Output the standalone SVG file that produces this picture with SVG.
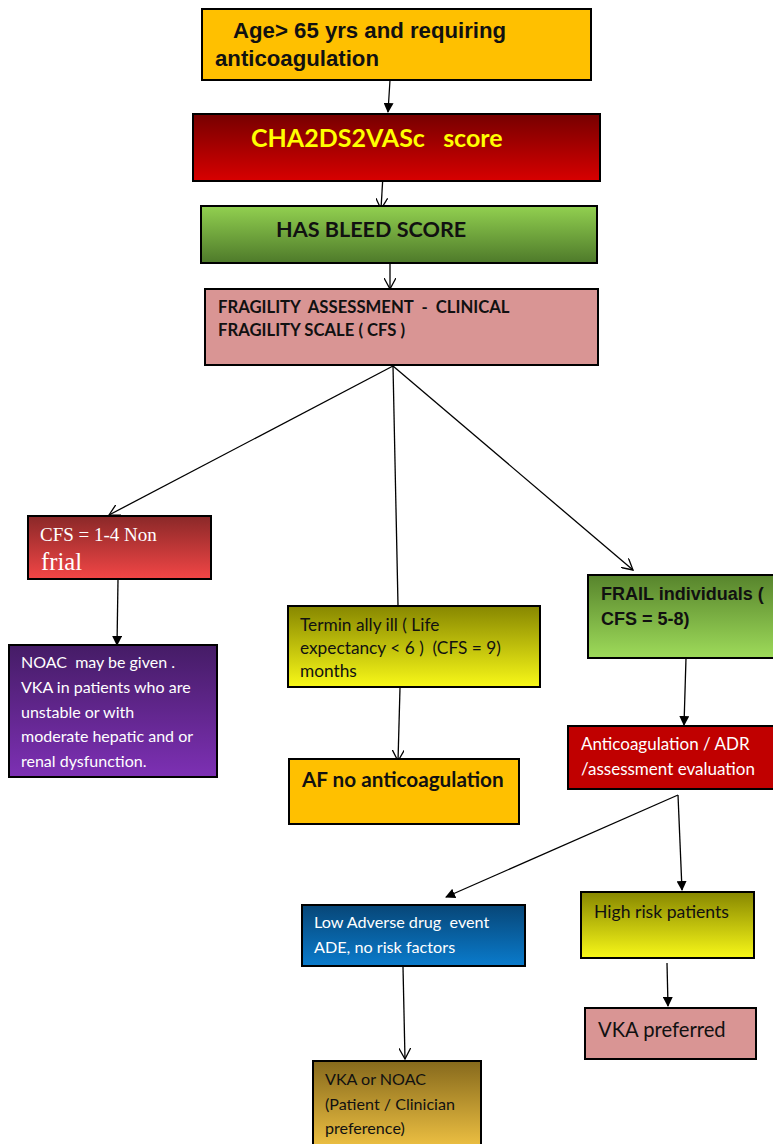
<svg xmlns="http://www.w3.org/2000/svg" width="773" height="1144" viewBox="0 0 773 1144">
<style>
.box{stroke:#000;stroke-width:2}
.c{font-family:Lato,"Liberation Sans",sans-serif}
.a{font-family:"Liberation Sans",Arial,sans-serif;font-weight:bold}
.w{fill:#fff}
.k{fill:#111}
.ln{stroke:#000;stroke-width:1.3;fill:none}
</style>
<defs>
<linearGradient id="gRed" x1="0" y1="0" x2="0" y2="1"><stop offset="0" stop-color="#760000"/><stop offset="1" stop-color="#d80000"/></linearGradient>
<linearGradient id="gGreen" x1="0" y1="0" x2="0" y2="1"><stop offset="0" stop-color="#92d050"/><stop offset="1" stop-color="#4e7a2a"/></linearGradient>
<linearGradient id="gGreen2" x1="0" y1="0" x2="0" y2="1"><stop offset="0" stop-color="#57842c"/><stop offset="1" stop-color="#9edb5a"/></linearGradient>
<linearGradient id="gCfs" x1="0" y1="0" x2="0" y2="1"><stop offset="0" stop-color="#8a2828"/><stop offset="1" stop-color="#f24646"/></linearGradient>
<linearGradient id="gPurple" x1="0" y1="0" x2="0" y2="1"><stop offset="0" stop-color="#451c66"/><stop offset="1" stop-color="#7d30b4"/></linearGradient>
<linearGradient id="gOlive" x1="0" y1="0" x2="0" y2="1"><stop offset="0" stop-color="#878700"/><stop offset="1" stop-color="#f8f818"/></linearGradient>
<linearGradient id="gBlue" x1="0" y1="0" x2="0" y2="1"><stop offset="0" stop-color="#074677"/><stop offset="1" stop-color="#0a7bcc"/></linearGradient>
<linearGradient id="gBrown" x1="0" y1="0" x2="0" y2="1"><stop offset="0" stop-color="#86691c"/><stop offset="1" stop-color="#f2c444"/></linearGradient>
<marker id="fill" markerWidth="10" markerHeight="10" refX="9" refY="5" orient="auto" markerUnits="userSpaceOnUse"><path d="M0,0 L10,5 L0,10 z" fill="#000"/></marker>
<marker id="open" markerWidth="12" markerHeight="12" refX="11" refY="6" orient="auto" markerUnits="userSpaceOnUse"><path d="M0,0 L11,6 L0,12" fill="none" stroke="#000" stroke-width="1.3"/></marker>
</defs>

<g id="connectors">
<line class="ln" x1="390" y1="80" x2="388" y2="112" marker-end="url(#fill)"/>
<line class="ln" x1="383" y1="175" x2="381" y2="209" marker-end="url(#open)"/>
<line class="ln" x1="390" y1="263" x2="390" y2="289" marker-end="url(#open)"/>
<line class="ln" x1="393" y1="366" x2="109" y2="515" marker-end="url(#open)"/>
<line class="ln" x1="393" y1="366" x2="398" y2="605"/>
<line class="ln" x1="393" y1="366" x2="633" y2="570" marker-end="url(#open)"/>
<line class="ln" x1="118" y1="580" x2="117" y2="645" marker-end="url(#fill)"/>
<line class="ln" x1="400" y1="688" x2="398" y2="761" marker-end="url(#open)"/>
<line class="ln" x1="686" y1="658" x2="684" y2="725" marker-end="url(#fill)"/>
<line class="ln" x1="678" y1="795" x2="446" y2="897" marker-end="url(#fill)"/>
<line class="ln" x1="678" y1="795" x2="682" y2="890" marker-end="url(#fill)"/>
<line class="ln" x1="403" y1="967" x2="405" y2="1059" marker-end="url(#open)"/>
<line class="ln" x1="667" y1="963" x2="668" y2="1006" marker-end="url(#fill)"/>
</g>

<g id="n-age">
<rect class="box" x="202" y="9" width="389" height="71" fill="#ffc000"/>
<text class="a k" font-size="22.2" x="233" y="38">Age&gt; 65 yrs and requiring</text>
<text class="a k" font-size="22.2" x="215" y="66">anticoagulation</text>
</g>

<g id="n-cha">
<rect class="box" x="193" y="114" width="407" height="67" fill="url(#gRed)"/>
<text class="c" font-weight="bold" font-size="25" fill="#ffff00" x="251" y="147" xml:space="preserve">CHA2DS2VASc   score</text>
</g>

<g id="n-has">
<rect class="box" x="201" y="206" width="396" height="57" fill="url(#gGreen)"/>
<text class="c k" font-weight="bold" font-size="21.6" x="276" y="237">HAS BLEED SCORE</text>
</g>

<g id="n-frag">
<rect class="box" x="205" y="289" width="393" height="76" fill="#d99594"/>
<text class="c k" font-weight="bold" font-size="16.7" x="218" y="313" xml:space="preserve">FRAGILITY  ASSESSMENT  -  CLINICAL</text>
<text class="c k" font-weight="bold" font-size="16.7" x="218" y="336">FRAGILITY SCALE ( CFS )</text>
</g>

<g id="n-cfs">
<rect class="box" x="28" y="516" width="183" height="63" fill="url(#gCfs)"/>
<text class="w" font-family="'Liberation Serif','Times New Roman',serif" font-size="19" x="40" y="541">CFS = 1-4 Non</text>
<text class="w" font-family="'Liberation Serif','Times New Roman',serif" font-size="24.6" x="41" y="570">frial</text>
</g>

<g id="n-noac">
<rect class="box" x="9" y="645" width="208" height="132" fill="url(#gPurple)"/>
<text class="c w" font-size="16" x="21" y="668" xml:space="preserve">NOAC  may be given .</text>
<text class="c w" font-size="16" x="21" y="693">VKA in patients who are</text>
<text class="c w" font-size="16" x="21" y="718">unstable or with</text>
<text class="c w" font-size="16" x="21" y="742">moderate hepatic and or</text>
<text class="c w" font-size="16" x="21" y="767">renal dysfunction.</text>
</g>

<g id="n-term">
<rect class="box" x="288" y="606" width="252" height="81" fill="url(#gOlive)"/>
<text class="c k" font-size="17.3" x="300" y="631">Termin ally ill ( Life</text>
<text class="c k" font-size="17.3" x="300" y="654" xml:space="preserve">expectancy &lt; 6 )  (CFS = 9)</text>
<text class="c k" font-size="17.3" x="300" y="677">months</text>
</g>

<g id="n-af">
<rect class="box" x="289" y="759" width="230" height="65" fill="#ffc000"/>
<text class="c k" font-weight="bold" font-size="20.7" x="302" y="787">AF no anticoagulation</text>
</g>

<g id="n-frail">
<rect class="box" x="588" y="575" width="190" height="83" fill="url(#gGreen2)"/>
<text class="a k" font-size="18" x="601" y="600">FRAIL individuals (</text>
<text class="a k" font-size="18" x="601" y="625">CFS = 5-8)</text>
</g>

<g id="n-anti">
<rect class="box" x="568" y="726" width="210" height="63" fill="#c00000"/>
<text class="c w" font-size="17" x="581" y="750">Anticoagulation / ADR</text>
<text class="c w" font-size="17" x="581" y="775">/assessment evaluation</text>
</g>

<g id="n-low">
<rect class="box" x="302" y="905" width="223" height="61" fill="url(#gBlue)"/>
<text class="c w" font-size="16.2" x="314" y="928" xml:space="preserve">Low Adverse drug  event</text>
<text class="c w" font-size="16.2" x="314" y="953">ADE, no risk factors</text>
</g>

<g id="n-vkanoac">
<rect class="box" x="313" y="1061" width="168" height="90" fill="url(#gBrown)"/>
<text class="c k" font-size="16.1" x="325" y="1085">VKA or NOAC</text>
<text class="c k" font-size="16.1" x="325" y="1110">(Patient / Clinician</text>
<text class="c k" font-size="16.1" x="325" y="1134">preference)</text>
</g>

<g id="n-high">
<rect class="box" x="581" y="892" width="173" height="66" fill="url(#gOlive)"/>
<text class="c k" font-size="17.6" x="594" y="918">High risk patients</text>
</g>

<g id="n-vkapref">
<rect class="box" x="585" y="1008" width="171" height="51" fill="#d99594"/>
<text class="c k" font-size="20.2" x="598" y="1037">VKA preferred</text>
</g>
</svg>
